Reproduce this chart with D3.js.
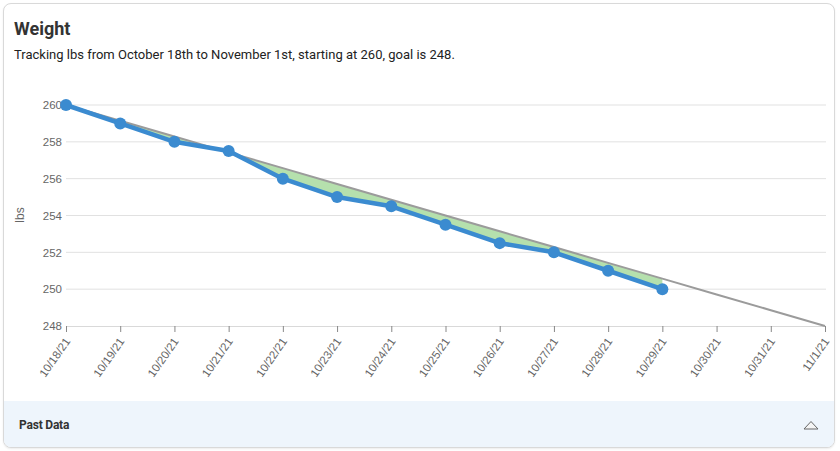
<!DOCTYPE html>
<html><head><meta charset="utf-8">
<script src="https://cdn.jsdelivr.net/npm/d3@7"></script>
<style>
html,body{margin:0;padding:0;background:#fff;}
body{width:840px;height:451px;overflow:hidden;position:relative;font-family:Roboto,Arial,sans-serif;}
.card{position:absolute;left:3px;top:3px;width:830px;height:443px;border:1px solid #d9d9d9;border-radius:8px;overflow:hidden;background:#fff;box-shadow:0 1px 2px rgba(0,0,0,0.08);}
.title{position:absolute;left:10px;top:14px;font-size:18px;font-weight:700;color:#333;}
.sub{position:absolute;left:10px;top:43px;font-size:13px;color:#222;}
.footer{position:absolute;left:0;top:397px;width:830px;height:46px;background:#eef5fc;}
.footer .lbl{position:absolute;left:15px;top:17px;font-size:12px;font-weight:700;color:#333;font-family:"Roboto",sans-serif;letter-spacing:-0.2px;}
svg{position:absolute;left:0;top:0;}
</style></head>
<body>
<div class="card">
  <div class="title">Weight</div>
  <div class="sub">Tracking lbs from October 18th to November 1st, starting at 260, goal is 248.</div>
  <div class="footer"><div class="lbl">Past Data</div></div>
</div>
<svg id="chart" width="840" height="451"></svg>
<script>
const dates = ["10/18/21","10/19/21","10/20/21","10/21/21","10/22/21","10/23/21","10/24/21","10/25/21","10/26/21","10/27/21","10/28/21","10/29/21","10/30/21","10/31/21","11/1/21"];
const weights = [260, 259, 258, 257.5, 256, 255, 254.5, 253.5, 252.5, 252, 251, 250];
const goalStart = 260;
const goalEnd = 248;
const yTicks = [248, 250, 252, 254, 256, 258, 260];

const svg = d3.select("#chart");
const x = d3.scalePoint().domain(dates).range([66, 825]);
const y = d3.scaleLinear().domain([248, 260]).range([326, 105]);
const goalAt = i => goalStart + (goalEnd - goalStart) * i / (dates.length - 1);

// gridlines
svg.append("g").selectAll("line").data(yTicks.filter(t=>t!==248)).join("line")
  .attr("x1", 66).attr("x2", 826).attr("y1", d=>y(d)).attr("y2", d=>y(d))
  .attr("stroke", "#e1e1e1").attr("stroke-width", 1);

// y axis labels
const yAx = svg.append("g").attr("transform","translate(66,0)")
  .call(d3.axisLeft(y).tickValues(yTicks).tickSize(0).tickPadding(4));
yAx.select(".domain").remove();
yAx.selectAll("text").attr("font-family","'Liberation Sans',Arial,sans-serif").attr("font-size",11.5).attr("fill","#666");

// x axis
const xAx = svg.append("g").attr("transform","translate(0,326)")
  .call(d3.axisBottom(x).tickSize(6).tickPadding(3));
xAx.select(".domain").attr("stroke","#d9d9d9").attr("d","M66,0.5H826");
xAx.selectAll(".tick line").attr("stroke","#888");
xAx.selectAll("text").attr("font-family","'Liberation Sans',Arial,sans-serif").attr("font-size",11.5).attr("fill","#666")
  .attr("text-anchor","end").attr("y",0).attr("dy","0.35em")
  .attr("transform","translate(1,13) rotate(-55)");

// y axis title
svg.append("text").attr("transform","translate(24,215) rotate(-90)").attr("text-anchor","middle")
  .attr("font-family","'Liberation Sans',Arial,sans-serif").attr("font-size",12).attr("fill","#666").text("lbs");

// green area between goal and actual
const areaData = weights.map((w,i)=>({d:dates[i], w, g:goalAt(i)}));
svg.append("path").datum(areaData)
  .attr("d", d3.area().x(d=>x(d.d)).y0(d=>y(d.w)).y1(d=>y(d.g)))
  .attr("fill","#b5e0ad");

// goal line
svg.append("path").datum(dates.map((d,i)=>({d, g:goalAt(i)})))
  .attr("d", d3.line().x(d=>x(d.d)).y(d=>y(d.g)))
  .attr("fill","none").attr("stroke","#9b9b9b").attr("stroke-width",2);

// actual line
svg.append("path").datum(areaData)
  .attr("d", d3.line().x(d=>x(d.d)).y(d=>y(d.w)))
  .attr("fill","none").attr("stroke","#3b8bd0").attr("stroke-width",4.5).attr("stroke-linejoin","round");
svg.append("g").selectAll("circle").data(areaData).join("circle")
  .attr("cx", d=>x(d.d)).attr("cy", d=>y(d.w)).attr("r",6).attr("fill","#3b8bd0");

// footer triangle icon
svg.append("path").attr("d","M804,429 L811,421.5 L818,429 Z").attr("fill","#f5f5f5").attr("stroke","#666").attr("stroke-width",1);
</script>
</body></html>
